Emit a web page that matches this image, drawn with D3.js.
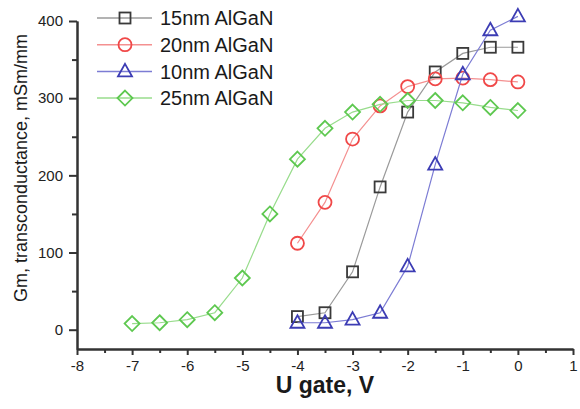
<!DOCTYPE html>
<html>
<head>
<meta charset="utf-8">
<script src="https://cdn.jsdelivr.net/npm/d3@7"></script>
<style>
  body { margin: 0; background: #fff; }
  svg { font-family: "Liberation Sans", Arial, sans-serif; }
</style>
</head>
<body>
<div id="chart"></div>
<script>
// gate voltage, V
var gate15 = [-4, -3.5, -3, -2.5, -2, -1.5, -1, -0.5, 0];
var gm15 = [17, 22, 75, 185, 282, 334, 358, 366, 366];

var gate20 = [-4, -3.5, -3, -2.5, -2, -1.5, -1, -0.5, 0];
var gm20 = [112, 165, 247, 290, 315, 325, 326, 324, 321];

var gate10 = [-4, -3.5, -3, -2.5, -2, -1.5, -1, -0.5, 0];
var gm10 = [9, 9, 13, 22, 82, 214, 331, 388, 406];

var gate25 = [-7, -6.5, -6, -5.5, -5, -4.5, -4, -3.5, -3, -2.5, -2, -1.5, -1, -0.5, 0];
var gm25 = [8, 9, 13, 22, 67, 150, 221, 261, 282, 292, 297, 297, 294, 288, 284];

var seriesNames = ["15nm AlGaN", "20nm AlGaN", "10nm AlGaN", "25nm AlGaN"];
var xTicks = [-8, -7, -6, -5, -4, -3, -2, -1, 0, 1];
var yTicks = [0, 100, 200, 300, 400];

var series = [
  { name: seriesNames[0], xs: gate15, ys: gm15, shape: "square", stroke: "#3a3a3a", line: "#9a9a9a" },
  { name: seriesNames[1], xs: gate20, ys: gm20, shape: "circle", stroke: "#f04848", line: "#f49090" },
  { name: seriesNames[2], xs: gate10, ys: gm10, shape: "triangle", stroke: "#3c3cb4", line: "#7c7cd4" },
  { name: seriesNames[3], xs: gate25, ys: gm25, shape: "diamond", stroke: "#5ec850", line: "#98dc8c" }
];

var W = 580, H = 409;
var svg = d3.select("#chart").append("svg")
  .attr("width", W)
  .attr("height", H);

var x = d3.scaleLinear().domain([-8, 1]).range([77, 573]);
var y = d3.scaleLinear().domain([-25, 400]).range([349, 21]);

var fmt = function (d) { return d3.format("d")(d).replace("−", "-"); };

// minor ticks
svg.append("g")
  .attr("transform", "translate(0," + y(-25) + ")")
  .call(d3.axisBottom(x).tickValues(d3.range(-7.5, 1, 1)).tickSize(4).tickSizeOuter(0).tickFormat(""))
  .call(styleAxis);
svg.append("g")
  .attr("transform", "translate(" + x(-8) + ",0)")
  .call(d3.axisLeft(y).tickValues([50, 150, 250, 350]).tickSize(5).tickSizeOuter(0).tickFormat(""))
  .call(styleAxis);

// major ticks
svg.append("g")
  .attr("transform", "translate(0," + y(-25) + ")")
  .call(d3.axisBottom(x).tickValues(xTicks).tickSize(6).tickSizeOuter(0).tickPadding(5).tickFormat(fmt))
  .call(styleAxis);
svg.append("g")
  .attr("transform", "translate(" + x(-8) + ",0)")
  .call(d3.axisLeft(y).tickValues(yTicks).tickSize(8).tickSizeOuter(0).tickPadding(6).tickFormat(fmt))
  .call(styleAxis);

function styleAxis(g) {
  g.select(".domain").attr("stroke", "#333").attr("stroke-width", 2);
  g.selectAll(".tick line").attr("stroke", "#333").attr("stroke-width", 2);
  g.selectAll(".tick text")
    .attr("fill", "#222")
    .attr("font-size", "15px")
    .attr("font-family", "Liberation Sans, Arial, sans-serif");
}

// axis titles
svg.append("text")
  .attr("x", (x(-8) + x(1)) / 2)
  .attr("y", 393)
  .attr("text-anchor", "middle")
  .attr("font-size", "23px")
  .attr("font-weight", "bold")
  .attr("fill", "#1a1a1a")
  .text("U gate, V");

svg.append("text")
  .attr("transform", "translate(27,168) rotate(-90)")
  .attr("text-anchor", "middle")
  .attr("font-size", "18px")
  .attr("fill", "#1a1a1a")
  .text("Gm, transconductance, mSm/mm");

function marker(sel, shape, color) {
  if (shape === "square") {
    sel.append("rect").attr("x", -5.5).attr("y", -5.5).attr("width", 11).attr("height", 11);
  } else if (shape === "circle") {
    sel.append("circle").attr("r", 6.5);
  } else if (shape === "triangle") {
    sel.append("path").attr("d", "M0,-7.5L7,5L-7,5Z");
  } else {
    sel.append("path").attr("d", "M0,-7.5L7.5,0L0,7.5L-7.5,0Z");
  }
  sel.selectAll("*")
    .attr("fill", "none")
    .attr("stroke", color)
    .attr("stroke-width", 1.8);
}

var line = d3.line()
  .x(function (d) { return x(d[0]); })
  .y(function (d) { return y(d[1]); });

series.forEach(function (s) {
  var pts = d3.zip(s.xs, s.ys);
  svg.append("path")
    .datum(pts)
    .attr("d", line)
    .attr("fill", "none")
    .attr("stroke", s.line)
    .attr("stroke-width", 1.2);
  svg.append("g").selectAll("g")
    .data(pts)
    .enter().append("g")
    .attr("transform", function (d) { return "translate(" + x(d[0]) + "," + y(d[1]) + ")"; })
    .each(function () { marker(d3.select(this), s.shape, s.stroke); });
});

// legend
var legend = svg.append("g").attr("class", "legend");
series.forEach(function (s, i) {
  var ly = 18 + i * 26.7;
  legend.append("line")
    .attr("x1", 97).attr("x2", 152)
    .attr("y1", ly).attr("y2", ly)
    .attr("stroke", s.line)
    .attr("stroke-width", 1.5);
  var m = legend.append("g").attr("transform", "translate(125," + ly + ")");
  marker(m, s.shape, s.stroke);
  legend.append("text")
    .attr("x", 160)
    .attr("y", ly)
    .attr("dy", "0.36em")
    .attr("font-size", "20px")
    .attr("fill", "#1a1a1a")
    .text(s.name);
});
</script>
</body>
</html>
